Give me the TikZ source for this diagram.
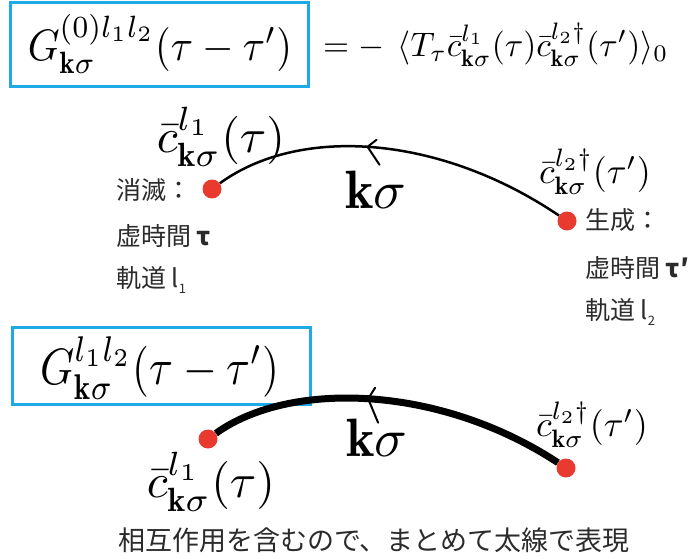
\documentclass[tikz,border=0pt]{standalone}
\usepackage{amsmath}
\usepackage{fontspec}
\newfontfamily\jp{Noto Sans CJK JP}
\usetikzlibrary{decorations.markings}
\definecolor{boxblue}{HTML}{1EAAE6}
\definecolor{dotred}{HTML}{E83A2E}
\definecolor{jgray}{HTML}{2B2B2B}
\newcommand{\fsz}[1]{\fontsize{#1}{#1}\selectfont}
\newcommand{\msc}[3]{\scalebox{#1}[#2]{$#3$}}
\begin{document}
\begin{tikzpicture}[x=1pt,y=-1pt,
  mth/.style={inner sep=0pt},
  jtext/.style={font=\jp\fsz{25}, text=jgray, anchor=west, inner sep=0pt},
  gbox/.style={draw=boxblue, line width=3pt, inner sep=0pt},
  reddot/.style={circle, fill=dotred, minimum size=19pt, inner sep=0pt},
  chevline/.style={line width=2pt, line cap=round},
  propthin/.style={line width=2.5pt},
  propthick/.style={line width=7pt}
]
\useasboundingbox (0,0) rectangle (688,559);
% top box
\node[gbox, minimum width=298pt, minimum height=84pt] (g0box) at (159,45) {};
\node[mth] (g0) at (160,44) {\msc{4.05}{4.4}{G^{(0)l_1l_2}_{\mathbf{k}\sigma}(\tau-\tau')}};
\node[mth, anchor=west] (rhs) at (323,45) {\msc{3.35}{3.4}{=-\mkern7mu\langle T_\tau\bar{c}^{l_1}_{\mathbf{k}\sigma}(\tau)\bar{c}^{l_2\dagger}_{\mathbf{k}\sigma}(\tau')\rangle_0}};
% top diagram
\node[reddot] (a1) at (212,189) {};
\node[reddot] (b1) at (567,221) {};
\draw[propthin, decoration={markings, mark=at position 0.57 with {\coordinate (tip1) at (0,0);}}, postaction={decorate}]
  (b1) .. controls (440,135) and (300,125) .. (a1);
\draw[chevline] (tip1) -- ++(9,-7);
\draw[chevline] (tip1) -- ++(12,18);
\node[mth] (ca1) at (221,137) {\msc{4.8}{4.8}{\bar{c}^{l_1}_{\mathbf{k}\sigma}(\tau)}};
\node[mth] (k1) at (376,190) {\msc{5.4}{5.4}{\mathbf{k}\sigma}};
\node[mth] (cb1) at (595,172) {\msc{3.6}{3.6}{\bar{c}^{l_2\dagger}_{\mathbf{k}\sigma}(\tau')}};
\node[jtext] (t1) at (116,190) {消滅：};
\node[jtext] (t2) at (116,236) {虚時間 {\bfseries τ}};
\node[jtext] (t3) at (116,280) {軌道 l\raisebox{-6pt}{\fsz{13}1}};
\node[jtext] (t4) at (585,220) {生成：};
\node[jtext] (t5) at (585,268) {虚時間 {\bfseries τ′}};
\node[jtext] (t6) at (585,312) {軌道 l\raisebox{-6pt}{\fsz{13}2}};
% bottom box
\node[gbox, minimum width=298pt, minimum height=77pt] (gbox) at (161,366) {};
\node[mth] (g) at (160,368) {\msc{4.35}{5.1}{G^{l_1l_2}_{\mathbf{k}\sigma}(\tau-\tau')}};
% bottom diagram
\node[reddot] (a2) at (208,439) {};
\node[reddot] (b2) at (566,468) {};
\draw[propthick, decoration={markings, mark=at position 0.56 with {\coordinate (tip2) at (0,0);}}, postaction={decorate}]
  (b2) .. controls (440,385) and (290,380) .. (a2);
\draw[chevline] (tip2) -- ++(7,-11);
\draw[chevline] (tip2) -- ++(10,24);
\node[mth] (k2) at (377,438) {\msc{5.4}{5.4}{\mathbf{k}\sigma}};
\node[mth] (cb2) at (592,425) {\msc{3.6}{3.6}{\bar{c}^{l_2\dagger}_{\mathbf{k}\sigma}(\tau')}};
\node[mth] (ca2) at (211,482) {\msc{4.8}{4.8}{\bar{c}^{l_1}_{\mathbf{k}\sigma}(\tau)}};
\node[font=\jp\fsz{27}, text=jgray, inner sep=0pt] (note) at (374,540) {相互作用を含むので、まとめて太線で表現};
\end{tikzpicture}
\end{document}
